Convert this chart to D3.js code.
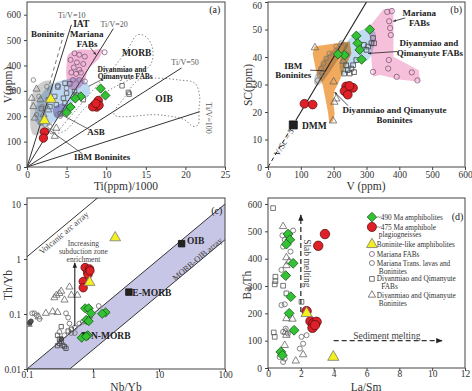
<!DOCTYPE html>
<html><head><meta charset="utf-8">
<script src="https://cdn.jsdelivr.net/npm/d3@7"></script>
<style>
body{margin:0;background:#fff;}
svg text{font-family:"Liberation Serif","Times New Roman",serif;}
</style></head><body>
<script>
// ---------------- DATA ----------------
// Panel (a): Ti(ppm)/1000 vs V(ppm)
const aXTicks = [0,5,10,15,20,25];
const aYTicks = [0,100,200,300,400,500,600];
const aTiVRatios = [10,20,50,100];
const aTiVEnds = [5.6,10.9,19.5,21.8];
const aDashed = [[2.6,300],[4.8,540]];
const aGreen = [[9.3,309],[9.9,282],[6.8,278],[6.1,270],[5.5,236],[5.0,215]];
const aRed = [[9.0,262],[8.5,241],[8.8,236],[9.1,243],[8.3,237],[8.7,250],[2.2,138],[2.07,114]];
const aYellow = [[3.0,267],[2.2,183]];
const aPinkCircles = [[6.0,448],[6.6,442],[7.3,435],[5.5,422],[6.3,412],[7.1,406],[5.9,392],[6.6,383],[5.6,372],[6.2,367],[6.8,372],[5.8,343],[6.6,343],[7.3,337],[9.8,452],[5.0,311],[3.9,320]];
const aSquares = [[4.8,330],[3.9,315],[5.4,328],[6.0,297],[5.0,291],[6.2,284],[4.6,271],[3.5,278],[2.7,265],[4.8,252],[2.9,238],[3.7,245],[12.0,320],[12.8,294],[12.9,287],[7.1,265],[1.8,230],[4.2,210]];
const aTriangles = [[1.2,307],[0.8,238],[1.0,193],[1.7,265],[0.6,271],[3.7,153],[3.5,121],[2.7,225],[2.1,206]];
const aGrayCircles = [[0.8,343],[1.5,278],[1.9,238],[1.2,206],[2.3,166],[2.9,160],[3.1,140],[2.5,317],[1.7,173],[3.8,205],[4.2,200]];
const aGrayRegion = [[0.5,147],[0.54,265],[1.04,311],[2.07,337],[2.9,339],[3.3,317],[2.9,265],[2.3,212],[2.07,160],[1.45,127],[0.83,127]];
const aBlueRegion = [[1.04,225],[2.5,311],[4.6,343],[6.6,350],[7.9,317],[7.7,278],[6.2,265],[5.0,219],[3.7,186],[2.5,160],[1.2,173]];
const aPinkRegion = [[5.2,442],[6.4,461],[8.3,461],[9.5,461],[9.1,428],[7.7,383],[7.3,337],[6.6,311],[5.6,304],[5.0,350],[5.0,402]];
const aPurpleRegion = [[3.3,230],[4.5,250],[5.2,232],[4.6,200],[3.6,195]];
const aMorbField = [[3.9,134],[6.2,225],[9.1,330],[11.2,402],[12.9,474],[13.9,520],[14.9,516],[15.8,474],[15.7,409],[14.1,363],[11.6,324],[9.1,278],[7.1,225],[5.0,147]];
const aOibField = [[14.1,343],[16.6,350],[19.1,343],[21.2,330],[21.8,278],[21.7,225],[21.6,166],[20.95,160],[19.9,186],[18.3,199],[16.2,206],[11.0,206],[12.4,278]];

// Panel (b): V(ppm) vs Sc(ppm)
const bXTicks = [0,100,200,300,400,500,600];
const bYTicks = [0,10,20,30,40,50,60];
const bVScLine = [[0,0],[85,17],[305,61]];
const bDMM = [[77,15.3]];
const bGreen = [[310,50],[269,47.7],[273,45],[279,42.6],[285,39.1],[233,40.7],[213,41]];
const bRed = [[111,23],[136,22.7],[238,29.3],[259,28.8],[233,27.6],[243,26.3],[248,29.5]];
const bPinkCircles = [[363,56.4],[377,56.7],[369,53],[372,50.5],[374,48],[368,38.9],[366,35.8],[320,34.6],[392,32.8],[438,34.4],[455,31.5]];
const bSquares = [[238,37],[243,35.2],[249,34],[254,35.8],[259,37],[269,38.9],[300,42.6],[315,45],[320,46.9],[305,43.8],[292,44.4],[323,45],[262,34.5],[232,34]];
const bTriangles = [[143,43.4],[198,16.8],[202,23.6],[208,24.8],[200,31],[230,38.5]];
const bGrayCircles = [[151,31.5],[157,33.4],[162,35.8],[169,37.7],[177,39.5],[187,41.3],[208,43.8],[223,45],[165,34],[240,41]];
const bPinkRegion = [[351,57.3],[382,57.9],[382,48.7],[382,40.1],[459,35.2],[464,30.9],[400,31.8],[341,33.5],[320,32.8],[315,38.9],[310,47.5],[305,50.5]];
const bBlueRegion = [[238,45],[290,50],[325,49.3],[320,42.6],[305,38.9],[269,37.7],[228,33.4],[218,36.4]];
const bGrayRegion = [[141,30.3],[146,34],[172,39.5],[198,42.6],[228,45.6],[244,44.4],[218,40],[192,35.2],[169,31.5],[151,29.7]];
const bOrangeRegion = [[141,43.8],[208,45],[249,45.6],[254,41.3],[238,37],[218,31.5],[203,27.9],[198,24.2],[203,19.3],[198,16.6],[187,15.8],[182,20.5],[167,29.7],[146,35.2],[136,41.3]];

// Panel (c): Nb/Yb vs Th/Yb (log-log)
const cXTicks = [0.1,1,10,100];
const cYTicks = [0.01,0.1,1,10];
const cBand = [[0.1,0.01],[300,30],[300,6.7],[0.445,0.01]];
const cArcLine = [[0.1,1.1],[1.3,14.3]];
const cArrow = [[0.53,0.06],[0.53,0.85]];
const cRefNames = ["OIB","E-MORB","N-MORB"];
const cRefNbYb = [22,3.5,0.76];
const cRefThYb = [1.9,0.25,0.04];
const cGreen = [[0.76,0.127],[0.86,0.127],[0.93,0.103],[0.79,0.078],[0.86,0.074],[1.55,0.107],[1.38,0.101],[0.675,0.037],[0.83,0.041],[0.79,0.039]];
const cRed = [[0.76,0.70],[0.887,0.66],[0.83,0.57],[0.71,0.39],[0.71,0.30],[0.84,0.52],[0.9,0.61]];
const cYellow = [[2.17,2.44],[0.887,0.377]];
const cTriangles = [[0.193,0.103],[0.245,0.110],[0.29,0.107],[0.31,0.237],[0.33,0.26],[0.37,0.18],[0.44,0.31],[0.47,0.22],[0.58,0.22],[0.26,0.198],[0.28,0.22],[0.15,0.089],[0.106,0.065]];
const cCircles = [[0.12,0.103],[0.13,0.103],[0.14,0.095],[0.155,0.081],[0.39,0.103],[0.42,0.086],[0.44,0.067],[0.53,0.057],[0.62,0.067],[0.70,0.072],[0.91,0.089],[1.22,0.14],[0.31,0.047],[0.37,0.041],[0.47,0.045],[0.53,0.045]];
const cSquares = [[0.29,0.041],[0.31,0.035],[0.33,0.032],[0.35,0.027],[0.37,0.0255],[0.39,0.0237],[0.42,0.049],[0.47,0.053],[0.33,0.059],[0.29,0.0265],[0.31,0.029]];
const cDark = [[0.11,0.068],[0.115,0.074],[0.33,0.035]];

// Panel (d): La/Sm vs Ba/Th
const dXTicks = [0,2,4,6,8,10,12];
const dYTicks = [0,100,200,300,400,500,600];
const dSlabArrow = [[2.0,205],[2.0,560]];
const dSedArrow = [[4.0,100],[10.6,100]];
const dGreen = [[1.22,490],[1.33,469],[1.12,453],[1.53,383],[1.08,338],[1.39,261],[1.29,200],[1.59,138],[0.78,59],[0.88,47]];
const dRed = [[3.47,490],[3.06,447],[2.35,208],[2.59,171],[2.76,163],[2.96,169],[2.71,147],[2.86,157]];
const dYellow = [[2.35,200],[3.98,40]];
const dSquares = [[0.31,585],[0.45,334],[0.45,318],[0.41,306],[0.35,130],[0.41,114],[0.92,301],[1.12,273],[2.04,242]];
const dCircles = [[0.88,485],[1.02,469],[1.53,503],[0.92,444],[1.37,426],[0.82,359],[1.12,340],[0.82,230],[1.02,233],[0.92,132],[1.08,144],[1.22,126],[2.04,114],[2.35,120],[1.94,71],[2.14,89],[0.92,22],[1.02,34],[0.71,40]];
const dTriangles = [[0.92,518],[1.12,404],[1.29,389],[1.12,375],[1.49,179],[1.12,181],[1.08,132],[2.14,49],[1.69,26],[1.12,120],[1.02,83]];
const legendLabels = [["~490 Ma amphibolites"],["~475 Ma amphibole","plagiogneisses"],["Boninite-like amphibolites"],["Mariana FABs"],["Mariana Trans. lavas and","Boninites"],["Diyanmiao and Qimanyute","FABs"],["Diyanmiao and Qimanyute","Boninites"]];
const legendY = [552,516,452,417,384,326,267];

// ---------------- DRAW ----------------
const svg = d3.select("body").append("svg").attr("width",472).attr("height",391);
const defs = svg.append("defs");
defs.append("marker").attr("id","arr").attr("viewBox","0 0 10 10").attr("refX",9).attr("refY",5)
  .attr("markerWidth",5).attr("markerHeight",5).attr("orient","auto")
  .append("path").attr("d","M0,1L10,5L0,9z").attr("fill","#222");
defs.append("marker").attr("id","arrs").attr("viewBox","0 0 10 10").attr("refX",9).attr("refY",5)
  .attr("markerWidth",4).attr("markerHeight",4).attr("orient","auto")
  .append("path").attr("d","M0,1L10,5L0,9z").attr("fill","#333");

const FS = "#333";
const sym = {circle:d3.symbolCircle, square:d3.symbolSquare, triangle:d3.symbolTriangle, diamond:d3.symbolSquare};

function makePanel(id, sx, sy, box, xt, yt, xfmt, yfmt, xTitle, yTitle, xTitlePos, yTitlePos, tickY){
  const [l,t,r,b] = box;
  defs.append("clipPath").attr("id","clip"+id).append("rect").attr("x",l).attr("y",t).attr("width",r-l).attr("height",b-t);
  const g = svg.append("g");
  const inner = g.append("g").attr("clip-path",`url(#clip${id})`);
  const ax = g.append("g").attr("transform",`translate(0,${b})`)
     .call(d3.axisBottom(sx).tickValues(xt).tickSize(3).tickSizeOuter(0).tickFormat(xfmt));
  const ay = g.append("g").attr("transform",`translate(${l},0)`)
     .call(d3.axisLeft(sy).tickValues(yt).tickSize(3).tickSizeOuter(0).tickFormat(yfmt));
  [ax,ay].forEach(a=>{
    a.select(".domain").remove();
    a.selectAll("line").attr("stroke","#444");
    a.selectAll("text").attr("font-family","Liberation Serif, serif").attr("font-size",9.5).attr("fill",FS);
  });
  ax.selectAll("text").attr("y",tickY);
  ay.selectAll("text").attr("dy", d=> (sy(d) < t+5) ? "0.7em" : "0.32em");
  g.append("rect").attr("x",l).attr("y",t).attr("width",r-l).attr("height",b-t)
   .attr("fill","none").attr("stroke","#444").attr("stroke-width",1);
  g.append("text").attr("x",xTitlePos[0]).attr("y",xTitlePos[1]).attr("text-anchor","middle")
   .attr("font-size",11.5).attr("fill",FS).text(xTitle);
  g.append("text").attr("transform",`translate(${yTitlePos[0]},${yTitlePos[1]}) rotate(-90)`).attr("text-anchor","middle")
   .attr("font-size",11.5).attr("fill",FS).text(yTitle);
  return {g, inner};
}
function marks(layer, sx, sy, data, type, size, fill, stroke, sw){
  layer.append("g").selectAll("path").data(data).join("path")
   .attr("transform", d=>`translate(${sx(d[0])},${sy(d[1])})${type==="diamond"?" rotate(45)":""}`)
   .attr("d", d3.symbol(sym[type], size)())
   .attr("fill", fill).attr("stroke", stroke).attr("stroke-width", sw);
}
function label(layer, sx, sy, x, y, txt, o){
  o = o||{};
  const t = layer.append("text").attr("x",sx(x)).attr("y",sy(y)).attr("dy","0.35em")
    .attr("text-anchor",o.anchor||"middle").attr("font-size",o.size||9)
    .attr("font-weight",o.bold?"bold":"normal").attr("fill",o.fill||"#222").text(txt);
  if(o.rot!==undefined) t.attr("transform",`rotate(${o.rot},${sx(x)},${sy(y)})`);
  return t;
}
function pline(layer, sx, sy, pts, o){
  o=o||{};
  const p = layer.append("path").attr("d", d3.line().x(d=>sx(d[0])).y(d=>sy(d[1]))(pts))
    .attr("fill","none").attr("stroke",o.stroke||"#222").attr("stroke-width",o.sw||1);
  if(o.dash) p.attr("stroke-dasharray",o.dash);
  if(o.arrow) p.attr("marker-end",`url(#${o.arrow})`);
  return p;
}
function region(layer, sx, sy, pts, fill, o){
  o=o||{};
  const gen = d3.line().x(d=>sx(d[0])).y(d=>sy(d[1])).curve(o.smooth?d3.curveCatmullRomClosed.alpha(0.5):d3.curveLinearClosed);
  const p = layer.append("path").attr("d",gen(pts)).attr("fill",fill).attr("fill-opacity",o.op||1)
    .attr("stroke",o.stroke||"none").attr("stroke-width",o.sw||1);
  if(o.dash) p.attr("stroke-dasharray",o.dash);
  if(o.blend) p.style("mix-blend-mode",o.blend);
  return p;
}
const fmt = d=>String(d);

// ---- Panel (a)
const xa = d3.scaleLinear([0,25],[27,225]);
const ya = d3.scaleLinear([0,650],[167,2]);
const A = makePanel("a", xa, ya, [27,2,225,167], aXTicks, aYTicks, fmt, fmt, "Ti(ppm)/1000", "V(ppm)", [126,190], [12,85], 4);
region(A.inner, xa, ya, aGrayRegion, "#c4c4c4", {smooth:true, op:0.85});
region(A.inner, xa, ya, aBlueRegion, "#b3d1f0", {smooth:true, op:0.85, blend:"multiply"});
region(A.inner, xa, ya, aPinkRegion, "#f2aed2", {smooth:true, op:0.9, blend:"multiply"});
region(A.inner, xa, ya, aPurpleRegion, "#9a88c8", {smooth:true, op:0.7, blend:"multiply"});
region(A.inner, xa, ya, aMorbField, "none", {smooth:true, stroke:"#888", dash:"1.5,2"});
region(A.inner, xa, ya, aOibField, "none", {smooth:true, stroke:"#888", dash:"1.5,2"});
aTiVRatios.forEach((r,i)=>pline(A.inner, xa, ya, [[0,0],[aTiVEnds[i], aTiVEnds[i]*1000/r]], {stroke:"#333", sw:1}));
pline(A.inner, xa, ya, aDashed, {stroke:"#777", dash:"4,3"});
pline(A.inner, xa, ya, [[4.36,206],[7.9,147]], {stroke:"#444", sw:0.8});
pline(A.inner, xa, ya, [[2.49,153],[7.0,52]], {stroke:"#444", sw:0.8});
pline(A.inner, xa, ya, [[9.9,352],[7.8,318]], {stroke:"#444", sw:0.8});
pline(A.inner, xa, ya, [[8.0,470],[8.7,442]], {stroke:"#444", sw:0.8, arrow:"arrs"});
marks(A.inner, xa, ya, aPinkCircles, "circle", 20, "none", "#7a5a78", 0.8);
marks(A.inner, xa, ya, aSquares, "square", 20, "none", "#555", 0.8);
marks(A.inner, xa, ya, aTriangles, "triangle", 22, "none", "#666", 0.8);
marks(A.inner, xa, ya, aGrayCircles, "circle", 16, "none", "#777", 0.8);
marks(A.inner, xa, ya, aGreen, "diamond", 42, "#33c233", "#1f5a1f", 0.8);
marks(A.inner, xa, ya, aRed, "circle", 55, "#e02028", "#5a1010", 0.8);
marks(A.inner, xa, ya, aYellow, "triangle", 50, "#f4f020", "#777", 0.8);
label(A.g, xa, ya, 5.65, 599, "Ti/V=10", {size:8, fill:"#555"});
label(A.g, xa, ya, 6.85, 563, "IAT", {size:9.5, bold:true});
label(A.g, xa, ya, 11.0, 563, "Ti/V=20", {size:8, fill:"#555"});
label(A.g, xa, ya, 2.55, 524, "Boninite", {size:9, bold:true});
label(A.g, xa, ya, 7.55, 524, "Mariana", {size:9, bold:true});
label(A.g, xa, ya, 7.6, 484, "FABs", {size:9, bold:true});
label(A.g, xa, ya, 13.85, 450, "MORB", {size:9.5, bold:true});
label(A.g, xa, ya, 12.0, 386, "Diyanmiao and", {size:7.5, bold:true});
label(A.g, xa, ya, 12.4, 356, "Qimanyute FABs", {size:7.5, bold:true});
label(A.g, xa, ya, 19.95, 411, "Ti/V=50", {size:8, fill:"#555"});
label(A.g, xa, ya, 17.3, 271, "OIB", {size:9.5, bold:true});
label(A.g, xa, ya, 22.9, 193, "Ti/V=100", {size:8, fill:"#555", rot:90});
label(A.g, xa, ya, 8.7, 139, "ASB", {size:9, bold:true});
label(A.g, xa, ya, 9.5, 40, "IBM Boninites", {size:9, bold:true});
label(A.g, xa, ya, 23.7, 621, "(a)", {size:10});

// ---- Panel (b)
const xb = d3.scaleLinear([0,600],[268,465]);
const yb = d3.scaleLinear([0,60],[167,2]);
const B = makePanel("b", xb, yb, [268,2,465,167], bXTicks, bYTicks, fmt, fmt, "V (ppm)", "SC(ppm)", [366,190], [252,85], 4);
region(B.inner, xb, yb, bPinkRegion, "#f5bcd8", {op:0.95});
region(B.inner, xb, yb, bOrangeRegion, "#f0a454", {op:0.95});
region(B.inner, xb, yb, bGrayRegion, "#c6c6c6", {smooth:true, op:0.9, blend:"multiply"});
region(B.inner, xb, yb, bBlueRegion, "#b8d8f2", {smooth:true, op:0.9, blend:"multiply"});
pline(B.inner, xb, yb, bVScLine.slice(0,2), {stroke:"#222", dash:"4,3"});
pline(B.inner, xb, yb, bVScLine.slice(1), {stroke:"#222", sw:1.1});
marks(B.inner, xb, yb, bPinkCircles, "circle", 22, "none", "#7a5a78", 0.8);
marks(B.inner, xb, yb, bSquares, "square", 22, "none", "#444", 0.8);
marks(B.inner, xb, yb, bTriangles, "triangle", 24, "none", "#666", 0.8);
marks(B.inner, xb, yb, bGrayCircles, "circle", 18, "none", "#777", 0.8);
marks(B.inner, xb, yb, bDMM, "square", 64, "#222", "#111", 0.8);
marks(B.inner, xb, yb, bGreen, "diamond", 45, "#33c233", "#1f5a1f", 0.8);
marks(B.inner, xb, yb, bRed, "circle", 60, "#e02028", "#5a1010", 0.8);
pline(B.g, xb, yb, [[418,54.2],[382,53]], {sw:0.8, arrow:"arrs"});
pline(B.g, xb, yb, [[394,42],[305,41.3]], {sw:0.8, arrow:"arrs"});
pline(B.g, xb, yb, [[128,35.2],[172,35]], {sw:0.8});
pline(B.g, xb, yb, [[244,22.3],[203,27.2]], {sw:0.8, arrow:"arrs"});
label(B.g, xb, yb, 461, 56.1, "Mariana", {size:9, bold:true});
label(B.g, xb, yb, 461, 52.5, "FABs", {size:9, bold:true});
label(B.g, xb, yb, 490, 45, "Diyanmiao and", {size:9, bold:true});
label(B.g, xb, yb, 493, 41.6, "Qimanyute FABs", {size:9, bold:true});
label(B.g, xb, yb, 77, 36.8, "IBM", {size:9, bold:true});
label(B.g, xb, yb, 77, 33.5, "Boninites", {size:9, bold:true});
label(B.g, xb, yb, 385, 20.7, "Diyanmiao and Qimanyute", {size:9, bold:true});
label(B.g, xb, yb, 385, 17.3, "Boninites", {size:9, bold:true});
label(B.g, xb, yb, 141, 14.9, "DMM", {size:9.5, bold:true});
label(B.g, xb, yb, 48, 9.0, "V/Sc = 5", {size:8.5, fill:"#333", rot:-59});
label(B.g, xb, yb, 573, 57.1, "(b)", {size:10});

// ---- Panel (c)
const xc = d3.scaleLog([0.1,100],[27,225]);
const yc = d3.scaleLog([0.01,10],[369,204]);
const C = makePanel("c", xc, yc, [27,198,225,369], cXTicks, cYTicks, fmt, fmt, "Nb/Yb", "Th/Yb", [126,390.5], [12,285], 2.5);
region(C.inner, xc, yc, cBand, "#c8c6e6", {stroke:"#333", sw:1});
pline(C.inner, xc, yc, cArcLine, {stroke:"#333", sw:1});
marks(C.inner, xc, yc, cTriangles, "triangle", 22, "none", "#666", 0.8);
marks(C.inner, xc, yc, cCircles, "circle", 18, "none", "#666", 0.8);
marks(C.inner, xc, yc, cSquares, "square", 18, "none", "#444", 0.8);
marks(C.inner, xc, yc, cDark, "circle", 16, "#555", "#333", 0.8);
marks(C.inner, xc, yc, cRefNbYb.map((v,i)=>[v,cRefThYb[i]]), "square", 42, "#222", "#111", 0.8);
marks(C.inner, xc, yc, cGreen, "diamond", 42, "#33c233", "#1f5a1f", 0.8);
marks(C.inner, xc, yc, cRed, "circle", 55, "#e02028", "#5a1010", 0.8);
marks(C.inner, xc, yc, cYellow, "triangle", 50, "#f4f020", "#777", 0.8);
pline(C.g, xc, yc, cArrow, {stroke:"#222", sw:1.1, arrow:"arr"});
label(C.g, xc, yc, 0.716, 1.95, "Increasing", {size:7.5, fill:"#444"});
label(C.g, xc, yc, 0.716, 1.40, "subduction zone", {size:7.5, fill:"#444"});
label(C.g, xc, yc, 0.716, 1.0, "enrichment", {size:7.5, fill:"#444"});
label(C.g, xc, yc, 36, 2.12, "OIB", {size:9.5, bold:true});
label(C.g, xc, yc, 7.8, 0.248, "E-MORB", {size:9.5, bold:true});
label(C.g, xc, yc, 1.86, 0.0403, "N-MORB", {size:9.5, bold:true});
label(C.g, xc, yc, 0.36, 3.0, "Volcanic arc array", {size:8.5, fill:"#444", rot:-40});
label(C.g, xc, yc, 38, 1.0, "MORB-OIB array", {size:8.5, fill:"#444", rot:-40});
label(C.g, xc, yc, 75, 7.46, "(c)", {size:10});

// ---- Panel (d)
const xd = d3.scaleLinear([0,12],[268,465]);
const yd = d3.scaleLinear([0,600],[368,204]);
const D = makePanel("d", xd, yd, [268,198,465,368], dXTicks, dYTicks, fmt, fmt, "La/Sm", "Ba/Th", [366,390.5], [251,285], 2.5);
marks(D.inner, xd, yd, dSquares, "square", 22, "none", "#555", 0.8);
marks(D.inner, xd, yd, dCircles, "circle", 20, "none", "#666", 0.8);
marks(D.inner, xd, yd, dTriangles, "triangle", 24, "none", "#666", 0.8);
marks(D.inner, xd, yd, dGreen, "diamond", 48, "#33c233", "#1f5a1f", 0.8);
marks(D.inner, xd, yd, dRed, "circle", 70, "#e02028", "#5a1010", 0.8);
marks(D.inner, xd, yd, dYellow, "triangle", 55, "#f4f020", "#777", 0.8);
pline(D.g, xd, yd, dSlabArrow, {stroke:"#333", sw:1.3, dash:"5,3", arrow:"arr"});
pline(D.g, xd, yd, dSedArrow, {stroke:"#333", sw:1.3, dash:"5,3", arrow:"arr"});
label(D.g, xd, yd, 2.41, 383, "Slab melting", {size:9.5, fill:"#444", rot:90});
label(D.g, xd, yd, 7.24, 120, "Sediment melting", {size:9.5, fill:"#444"});
label(D.g, xd, yd, 11.55, 555, "(d)", {size:10});
// legend
const legTypes = ["diamond","circle","triangle","circle","circle","square","triangle"];
const legSizes = [45,65,50,20,20,22,24];
const legFill = ["#33c233","#e02028","#f4f020","none","none","none","none"];
const legStroke = ["#1f5a1f","#5a1010","#777","#7a5a78","#666","#555","#666"];
legendLabels.forEach((lines,i)=>{
  marks(D.g, xd, yd, [[6.33, legendY[i]]], legTypes[i], legSizes[i], legFill[i], legStroke[i], 0.8);
  lines.forEach((s,j)=>{
    label(D.g, xd, yd, j===0?6.63:(i===5?6.9:6.75), legendY[i]-j*29, s, {size:7.3, anchor:"start", fill:"#333"});
  });
});
</script></body></html>
